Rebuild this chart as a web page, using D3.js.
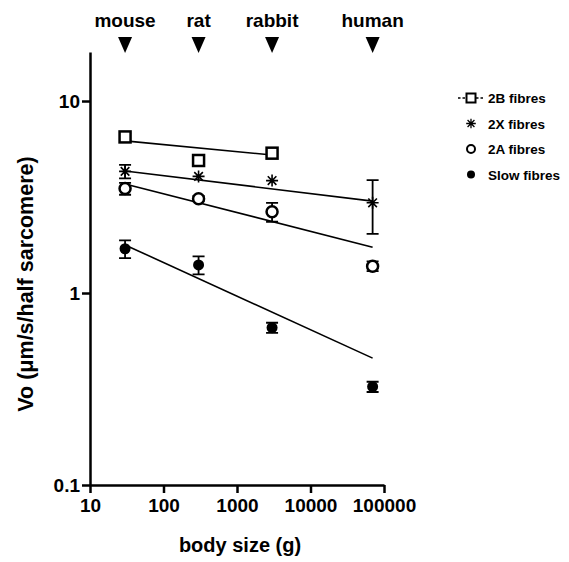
<!DOCTYPE html>
<html>
<head>
<meta charset="utf-8">
<script src="https://cdn.jsdelivr.net/npm/d3@7/dist/d3.min.js"></script>
<style>
  body { margin: 0; background: #fff; }
  text { font-family: Arial, "Liberation Sans", sans-serif; font-weight: bold; }
</style>
</head>
<body>
<script>
var width = 569;
var height = 562;

// animals and body mass (g)
var animals = ["mouse", "rat", "rabbit", "human"];
var mass = [30, 300, 3000, 70000];

// Vo per fibre type (null = not measured)
var v2B = [6.5, 4.9, 5.35, null];
var e2B = [0.3, 0, 0, null];
var v2X = [4.3, 4.05, 3.85, 2.95];
var e2X = [0.35, 0, 0, 0.92];
var v2A = [3.5, 3.1, 2.65, 1.38];
var e2A = [0.25, 0.1, 0.3, 0.08];
var vSlow = [1.7, 1.4, 0.66, 0.325];
var eSlow = [0.18, 0.15, 0.04, 0.02];

// fitted lines: [mass start, mass end], [value start, value end]
var fitMass2B = [30, 3000];
var fit2B = [6.2, 5.23];
var fitMassAll = [30, 70000];
var fit2X = [4.32, 3.01];
var fit2A = [3.7, 1.73];
var fitSlow = [1.78, 0.458];

var xTicks = [10, 100, 1000, 10000, 100000];
var yTicks = [0.1, 1, 10];
var legendLabels = ["2B fibres", "2X fibres", "2A fibres", "Slow fibres"];

var svg = d3.select("body").append("svg")
  .attr("width", width)
  .attr("height", height);

var x = d3.scaleLog().domain([10, 100000]).range([90, 384]);
var y = d3.scaleLog().domain([0.1, 18]).range([485, 52]);

// axes
svg.append("g")
  .attr("transform", "translate(0," + y(0.1) + ")")
  .call(d3.axisBottom(x).tickValues(xTicks).tickFormat(d3.format("d")).tickSize(8).tickSizeOuter(0).tickPadding(6));

svg.append("g")
  .attr("transform", "translate(" + x(10) + ",0)")
  .call(d3.axisLeft(y).tickValues(yTicks).tickFormat(function(d) { return String(d); }).tickSize(8).tickSizeOuter(0).tickPadding(2));

svg.selectAll(".domain").style("stroke", "#000").style("stroke-width", 2.5);
svg.selectAll(".tick line").style("stroke", "#000").style("stroke-width", 2.5);
svg.selectAll(".tick text")
  .style("font-size", "19px")
  .style("font-family", "Arial, 'Liberation Sans', sans-serif")
  .style("font-weight", "bold")
  .style("fill", "#000");

// axis titles
svg.append("text")
  .attr("x", 240)
  .attr("y", 552)
  .attr("text-anchor", "middle")
  .style("font-size", "20px")
  .text("body size (g)");

svg.append("text")
  .attr("transform", "translate(33,284) rotate(-90)")
  .attr("text-anchor", "middle")
  .style("font-size", "21.5px")
  .text("Vo (\u03bcm/s/half sarcomere)");

// animal labels with arrows
var marks = svg.selectAll(".animal")
  .data(animals)
  .enter().append("g")
  .attr("transform", function(d, i) { return "translate(" + x(mass[i]) + ",0)"; });

marks.append("text")
  .attr("y", 27)
  .attr("text-anchor", "middle")
  .style("font-size", "19px")
  .text(function(d) { return d; });

marks.append("path")
  .attr("d", "M-7,37 L7,37 L0,53 Z")
  .style("fill", "#000");

// fitted lines
var fits = [
  { m: fitMass2B, v: fit2B },
  { m: fitMassAll, v: fit2X },
  { m: fitMassAll, v: fit2A },
  { m: fitMassAll, v: fitSlow }
];

svg.selectAll(".fit")
  .data(fits)
  .enter().append("line")
  .attr("x1", function(d) { return x(d.m[0]); })
  .attr("x2", function(d) { return x(d.m[1]); })
  .attr("y1", function(d) { return y(d.v[0]); })
  .attr("y2", function(d) { return y(d.v[1]); })
  .style("stroke", "#000")
  .style("stroke-width", 1.6);

// points
function drawSymbol(g, type) {
  if (type == "square") {
    g.append("rect").attr("x", -5.5).attr("y", -5.5).attr("width", 11).attr("height", 11)
      .style("fill", "#fff").style("stroke", "#000").style("stroke-width", 2.5);
  } else if (type == "circle") {
    g.append("circle").attr("r", 5.5)
      .style("fill", "#fff").style("stroke", "#000").style("stroke-width", 2.5);
  } else if (type == "dot") {
    g.append("circle").attr("r", 5.5).style("fill", "#000");
  } else {
    g.append("path")
      .attr("d", "M0,-6L0,6M-6,0L6,0M-4.3,-4.3L4.3,4.3M-4.3,4.3L4.3,-4.3")
      .style("stroke", "#000").style("stroke-width", 1.6);
  }
}

var series = [
  { v: v2B, e: e2B, sym: "square" },
  { v: v2X, e: e2X, sym: "star" },
  { v: v2A, e: e2A, sym: "circle" },
  { v: vSlow, e: eSlow, sym: "dot" }
];

series.forEach(function(s) {
  s.v.forEach(function(val, i) {
    if (val == null) return;
    var g = svg.append("g").attr("transform", "translate(" + x(mass[i]) + "," + y(val) + ")");
    var err = s.e[i];
    if (err > 0) {
      var yt = y(val + err) - y(val);
      var yb = y(val - err) - y(val);
      g.append("path")
        .attr("d", "M0," + yt + "L0," + yb + "M-6," + yt + "L6," + yt + "M-6," + yb + "L6," + yb)
        .style("stroke", "#000").style("stroke-width", 1.8).style("fill", "none");
    }
    drawSymbol(g, s.sym);
  });
});

// legend
var legend = svg.selectAll(".legend")
  .data(legendLabels)
  .enter().append("g")
  .attr("transform", function(d, i) { return "translate(471," + (98 + i * 25.5) + ")"; });

legend.each(function(d, i) {
  var g = d3.select(this);
  if (i == 0) {
    g.append("line").attr("x1", -13).attr("x2", 13)
      .style("stroke", "#000").style("stroke-width", 1.3).style("stroke-dasharray", "2.5,2");
  }
  drawSymbol(g, series[i].sym);
});

legend.select("rect").attr("x", -4.5).attr("y", -4.5).attr("width", 9).attr("height", 9).style("stroke-width", 2);
legend.selectAll("circle").attr("r", 4).style("stroke-width", 2);
legend.select("path").attr("transform", "scale(0.8)");

legend.append("text")
  .attr("x", 17)
  .attr("y", 5)
  .style("font-size", "13.5px")
  .text(function(d) { return d; });
</script>
</body>
</html>
